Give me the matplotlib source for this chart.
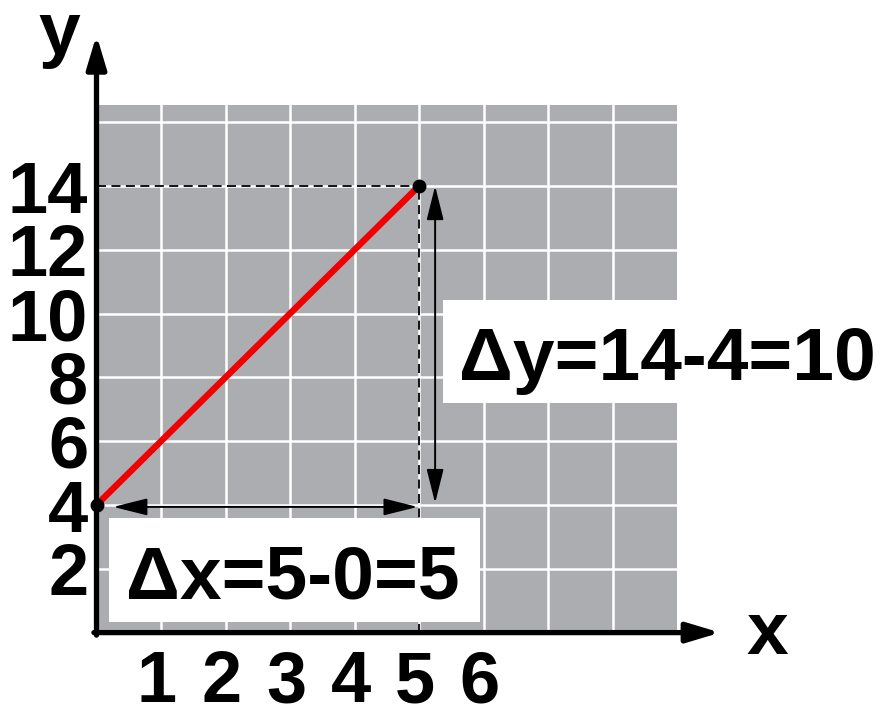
import matplotlib.pyplot as plt
from matplotlib.patches import Rectangle
from matplotlib.transforms import ScaledTranslation

plt.rcParams['font.family'] = ['Liberation Sans', 'DejaVu Sans']
plt.rcParams['font.weight'] = 'bold'

# data
x_pts = [0, 5]
y_pts = [4, 14]
x_grid = [1, 2, 3, 4, 5, 6, 7, 8]
x_labels = ['1', '2', '3', '4', '5', '6', '', '']
y_grid = [2, 4, 6, 8, 10, 12, 14, 16]
y_labels = ['2', '4', '6', '8', '10', '12', '14', '']

dx_text = f"\u0394x={x_pts[1]}-{x_pts[0]}={x_pts[1] - x_pts[0]}"
dy_text = f"\u0394y={y_pts[1]}-{y_pts[0]}={y_pts[1] - y_pts[0]}"

fig = plt.figure(figsize=(8.8, 7.13), dpi=100)
ax = fig.add_axes([96.5 / 880, 80.4 / 713, 580.5 / 880, 527.3 / 713])
ax.set_xlim(0, 9)
ax.set_ylim(0, 16.53)
ax.set_facecolor('#abadb0')
for s in ax.spines.values():
    s.set_visible(False)

ax.set_xticks(x_grid, x_labels)
ax.set_yticks(y_grid, y_labels)
ax.tick_params(axis='both', length=0, labelsize=52)
ax.tick_params(axis='x', pad=12)
ax.tick_params(axis='y', pad=6)
ax.grid(True, color='white', lw=1.8)
ax.set_axisbelow(True)
shift = ScaledTranslation(-4 / 100, 0, fig.dpi_scale_trans)
for lab in ax.get_xticklabels():
    lab.set_transform(lab.get_transform() + shift)

# dashed guides to the end point
ax.plot([0, x_pts[1]], [y_pts[1], y_pts[1]], 'k--', lw=1.3, dashes=(5, 3), zorder=3)
ax.plot([x_pts[1], x_pts[1]], [0, y_pts[1]], 'k--', lw=1.3, dashes=(5, 3), zorder=3)

# the line and its ends
ax.plot(x_pts, y_pts, color='#f00000', lw=4.6, zorder=4, solid_capstyle='butt')
ax.plot(x_pts, y_pts, 'o', color='black', markersize=9, zorder=5, clip_on=False)

# double arrows
ap = dict(arrowstyle='<|-|>,head_length=1.4,head_width=0.35', color='black',
          lw=1.4, mutation_scale=15)
ax.annotate('', xy=(x_pts[1], y_pts[0] - 0.06), xytext=(x_pts[0] + 0.26, y_pts[0] - 0.06),
            arrowprops=dict(ap, shrinkA=0, shrinkB=1), zorder=6)
ax.annotate('', xy=(x_pts[1] + 0.25, y_pts[1]), xytext=(x_pts[1] + 0.25, y_pts[0] + 0.06),
            arrowprops=dict(ap, shrinkA=0, shrinkB=0), zorder=6)

# white label boxes
ax.add_patch(Rectangle((0.19, 0.33), 5.76, 3.26, facecolor='white', edgecolor='none',
                       zorder=7, clip_on=False))
ax.add_patch(Rectangle((5.37, 7.20), 6.9, 3.23, facecolor='white', edgecolor='none',
                       zorder=7, clip_on=False))
ax.text(3.05, 1.08, dx_text, fontsize=54, ha='center', va='baseline', zorder=8)
ax.text(8.85, 7.92, dy_text, fontsize=54, ha='center', va='baseline', zorder=8,
        clip_on=False)

# axes with arrow heads
axp = dict(arrowstyle='-|>,head_length=1.0,head_width=0.3', color='black', lw=3.8,
           mutation_scale=20, shrinkA=0, shrinkB=0)
ax.annotate('', xy=(0, 18.73), xytext=(0, -0.08), arrowprops=axp, zorder=9,
            annotation_clip=False)
ax.annotate('', xy=(9.67, 0), xytext=(-0.04, 0), arrowprops=axp, zorder=9,
            annotation_clip=False)

fig.text(59 / 880, 1 - 54 / 713, 'y', fontsize=54, ha='center', va='baseline')
fig.text(767 / 880, 1 - 654 / 713, 'x', fontsize=54, ha='center', va='baseline')

fig.savefig('out.png', dpi=100)
